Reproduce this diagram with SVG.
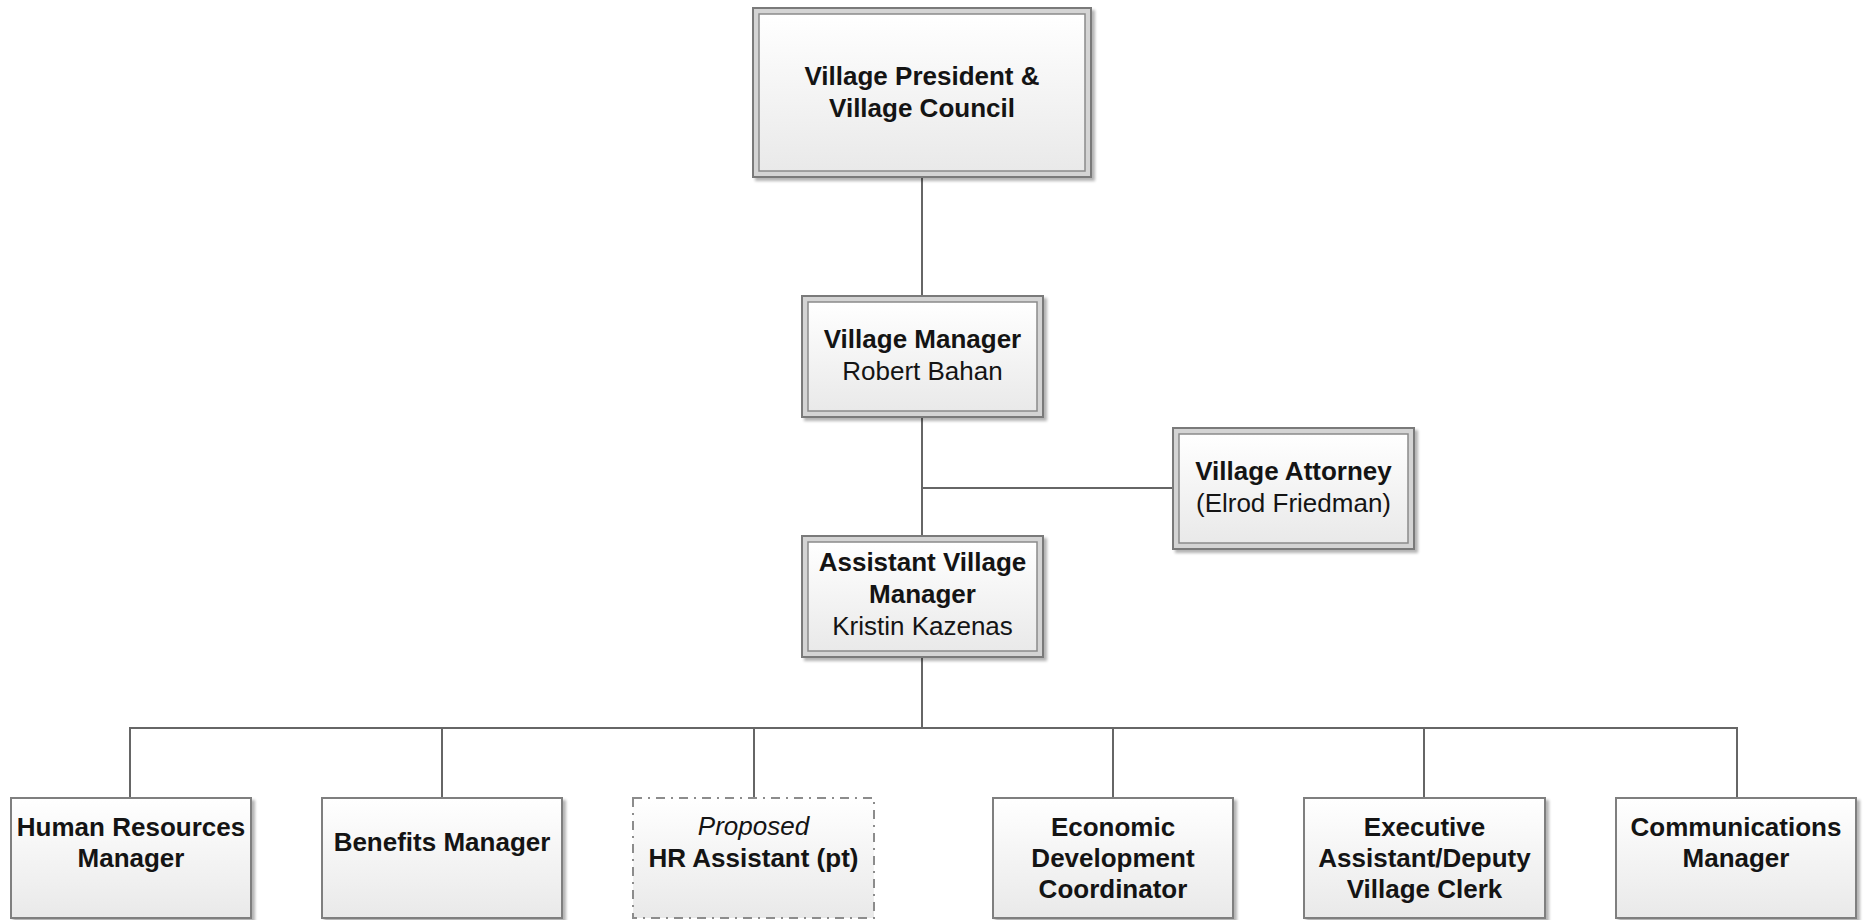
<svg xmlns="http://www.w3.org/2000/svg" width="1863" height="920" viewBox="0 0 1863 920">
  <defs>
    <linearGradient id="boxFill" x1="0" y1="0" x2="0" y2="1">
      <stop offset="0" stop-color="#ffffff"/>
      <stop offset="1" stop-color="#e9e9e9"/>
    </linearGradient>
    <filter id="shadow" x="-10%" y="-10%" width="125%" height="125%">
      <feGaussianBlur in="SourceAlpha" stdDeviation="1.5"/>
      <feOffset dx="3" dy="3" result="off"/>
      <feComponentTransfer><feFuncA type="linear" slope="0.3"/></feComponentTransfer>
      <feMerge><feMergeNode/><feMergeNode in="SourceGraphic"/></feMerge>
    </filter>
    <style>
      .outer { fill: #d4d4d4; stroke: #7a7a7a; stroke-width: 2; filter: url(#shadow); }
      .inner { fill: url(#boxFill); stroke: #8a8a8a; stroke-width: 1.5; }
      .single { fill: url(#boxFill); stroke: #7f7f7f; stroke-width: 2; filter: url(#shadow); }
      .dashed { fill: url(#boxFill); stroke: #8c8c8c; stroke-width: 2; stroke-dasharray: 9 6 2 6; }
      .conn { fill: none; stroke: #666666; stroke-width: 2; }
      text { font-family: "Liberation Sans", Arial, sans-serif; font-size: 26px; fill: #141414; text-anchor: middle; }
      .b { font-weight: bold; }
      .i { font-style: italic; }
    </style>
  </defs>

  <!-- reporting lines -->
  <g id="connectors">
    <line class="conn" x1="922" y1="177" x2="922" y2="296"/>
    <line class="conn" x1="922" y1="417" x2="922" y2="536"/>
    <line class="conn" x1="922" y1="488" x2="1173" y2="488"/>
    <line class="conn" x1="922" y1="657" x2="922" y2="728"/>
    <line class="conn" x1="129" y1="728" x2="1738" y2="728"/>
    <line class="conn" x1="130" y1="727" x2="130" y2="798"/>
    <line class="conn" x1="442" y1="727" x2="442" y2="798"/>
    <line class="conn" x1="754" y1="727" x2="754" y2="798"/>
    <line class="conn" x1="1113" y1="727" x2="1113" y2="798"/>
    <line class="conn" x1="1424" y1="727" x2="1424" y2="798"/>
    <line class="conn" x1="1737" y1="727" x2="1737" y2="798"/>
  </g>

  <g id="council">
    <rect class="outer" x="753" y="8" width="338" height="169"/>
    <rect class="inner" x="759" y="14" width="326" height="157"/>
    <text class="b" x="922" y="85">Village President &amp;</text>
    <text class="b" x="922" y="117">Village Council</text>
  </g>

  <g id="village-manager">
    <rect class="outer" x="802" y="296" width="241" height="121"/>
    <rect class="inner" x="808" y="302" width="229" height="109"/>
    <text class="b" x="922.5" y="348">Village Manager</text>
    <text x="922.5" y="380">Robert Bahan</text>
  </g>

  <g id="village-attorney">
    <rect class="outer" x="1173" y="428" width="241" height="121"/>
    <rect class="inner" x="1179" y="434" width="229" height="109"/>
    <text class="b" x="1293.5" y="480">Village Attorney</text>
    <text x="1293.5" y="512">(Elrod Friedman)</text>
  </g>

  <g id="assistant-manager">
    <rect class="outer" x="802" y="536" width="241" height="121"/>
    <rect class="inner" x="808" y="542" width="229" height="109"/>
    <text class="b" x="922.5" y="571">Assistant Village</text>
    <text class="b" x="922.5" y="603">Manager</text>
    <text x="922.5" y="635">Kristin Kazenas</text>
  </g>

  <g id="hr-manager">
    <rect class="single" x="11" y="798" width="240" height="120"/>
    <text class="b" x="131" y="836">Human Resources</text>
    <text class="b" x="131" y="867">Manager</text>
  </g>

  <g id="benefits-manager">
    <rect class="single" x="322" y="798" width="240" height="120"/>
    <text class="b" x="442" y="851">Benefits Manager</text>
  </g>

  <g id="hr-assistant">
    <rect class="dashed" x="633" y="798" width="241" height="120"/>
    <text class="i" x="753.5" y="835">Proposed</text>
    <text class="b" x="753.5" y="867">HR Assistant (pt)</text>
  </g>

  <g id="economic-development">
    <rect class="single" x="993" y="798" width="240" height="120"/>
    <text class="b" x="1113" y="836">Economic</text>
    <text class="b" x="1113" y="867">Development</text>
    <text class="b" x="1113" y="898">Coordinator</text>
  </g>

  <g id="executive-assistant">
    <rect class="single" x="1304" y="798" width="241" height="120"/>
    <text class="b" x="1424.5" y="836">Executive</text>
    <text class="b" x="1424.5" y="867">Assistant/Deputy</text>
    <text class="b" x="1424.5" y="898">Village Clerk</text>
  </g>

  <g id="communications-manager">
    <rect class="single" x="1616" y="798" width="240" height="120"/>
    <text class="b" x="1736" y="836">Communications</text>
    <text class="b" x="1736" y="867">Manager</text>
  </g>
</svg>
